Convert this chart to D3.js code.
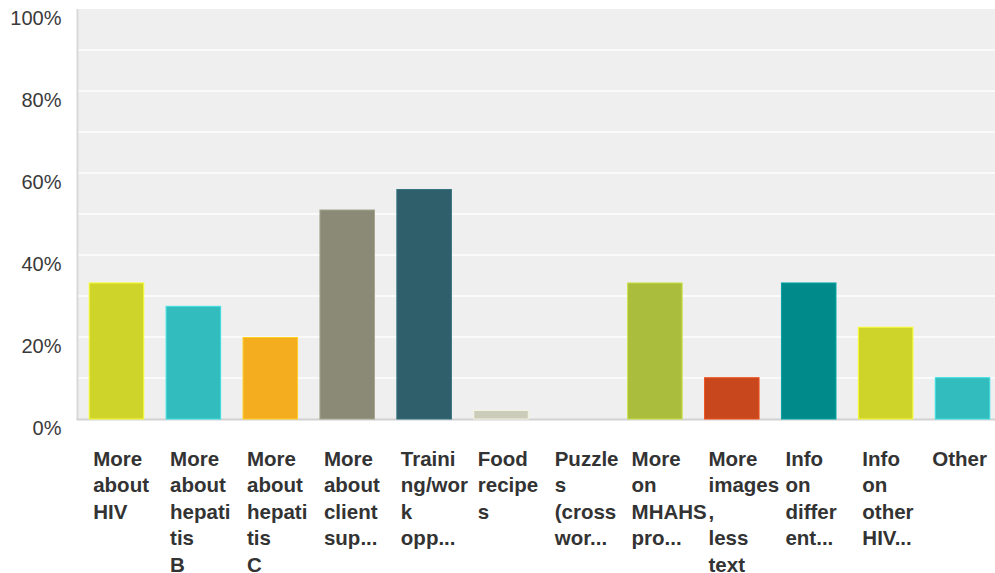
<!DOCTYPE html>
<html>
<head>
<meta charset="utf-8">
<script src="https://cdn.jsdelivr.net/npm/d3@7"></script>
<style>
  body { margin: 0; background: #fff; }
  svg { display: block; }
</style>
</head>
<body>
<div id="container"></div>
<script>
const categories = ["hiv", "hepB", "hepC", "client", "training", "food", "puzzles", "mhahs", "images", "different", "otherHiv", "other"]
const labels = [
  ["More", "about", "HIV"],
  ["More", "about", "hepati", "tis", "B"],
  ["More", "about", "hepati", "tis", "C"],
  ["More", "about", "client", "sup..."],
  ["Traini", "ng/wor", "k", "opp..."],
  ["Food", "recipe", "s"],
  ["Puzzle", "s", "(cross", "wor..."],
  ["More", "on", "MHAHS", "pro..."],
  ["More", "images", ",", "less", "text"],
  ["Info", "on", "differ", "ent..."],
  ["Info", "on", "other", "HIV..."],
  ["Other"]
]
const values = [33.3, 27.6, 20.0, 51.1, 56.1, 2.2, 0, 33.3, 10.2, 33.3, 22.5, 10.2]
const colors = ["#cfd42a", "#33bcbe", "#f5ad20", "#8a8a77", "#2e5f6b", "#ccccbb", "#ccccbb", "#aabd3c", "#c8471d", "#008a8a", "#cfd42a", "#33bcbe"]
const yTicks = [0, 20, 40, 60, 80, 100]
const gridTicks = [10, 20, 30, 40, 50, 60, 70, 80, 90]

const width = 995
const height = 573
const margin = {top: 9, right: 0, bottom: 154, left: 78}

const svg = d3.create("svg")
    .attr("width", width)
    .attr("height", height)

const x = d3.scaleBand()
    .domain(categories)
    .range([margin.left, 1001])
    .paddingInner(0.278)
    .paddingOuter(0.139)

const y = d3.scaleLinear()
    .domain([0, 100])
    .range([height - margin.bottom, margin.top])

// plot background
svg.append("rect")
    .attr("x", margin.left)
    .attr("y", y(100))
    .attr("width", width - margin.left)
    .attr("height", y(0) - y(100))
    .attr("fill", "#efefef")

svg.append("g")
    .selectAll("line")
    .data(gridTicks)
    .join("line")
    .attr("x1", margin.left)
    .attr("x2", width)
    .attr("y1", d => y(d))
    .attr("y2", d => y(d))
    .attr("stroke", "#fafafa")
    .attr("stroke-width", 2)

// axis lines
svg.append("line")
    .attr("x1", margin.left - 0.5).attr("x2", margin.left - 0.5)
    .attr("y1", y(100)).attr("y2", y(0) + 1)
    .attr("stroke", "#d9d9d9").attr("stroke-width", 2)

svg.append("line")
    .attr("x1", margin.left - 1.5).attr("x2", width)
    .attr("y1", y(0) + 0.5).attr("y2", y(0) + 0.5)
    .attr("stroke", "#d2d2d2").attr("stroke-width", 2)

// y labels
svg.append("g")
    .selectAll("text")
    .data(yTicks)
    .join("text")
    .attr("x", 61.5)
    .attr("y", d => y(d) + 16)
    .attr("text-anchor", "end")
    .attr("font-family", "Liberation Sans, Arial, sans-serif")
    .attr("font-size", 20)
    .attr("fill", "#3a3a3a")
    .text(d => d + "%")

// bars
svg.append("g")
    .selectAll("rect")
    .data(values)
    .join("rect")
    .attr("x", (d, i) => x(categories[i]) + 0.5)
    .attr("y", d => y(d) + 0.5)
    .attr("width", x.bandwidth() - 1)
    .attr("height", d => Math.max(0, y(0) - y(d) - 0.5))
    .attr("fill", (d, i) => colors[i])
    .attr("stroke", (d, i) => d3.color(colors[i]).brighter(0.5))
    .attr("stroke-width", 1)
    .style("display", d => d > 0 ? null : "none")

// category labels, wrapped as in the original
const labelG = svg.append("g")
    .attr("font-family", "Liberation Sans, Arial, sans-serif")
    .attr("font-size", 20.5)
    .attr("font-weight", "bold")
    .attr("fill", "#333")

labels.forEach((lines, i) => {
    const t = labelG.append("text")
        .attr("x", x(categories[i]) + 4.5)
        .attr("y", 465.5)
    lines.forEach((line, j) => {
        t.append("tspan")
            .attr("x", x(categories[i]) + 4.5)
            .attr("dy", j === 0 ? 0 : 26.5)
            .text(line)
    })
})

document.querySelector("#container").appendChild(svg.node())

// keep labels inside the window like the original does
labelG.selectAll("text").each(function() {
    const box = this.getBBox()
    const over = box.x + box.width - 987
    if (over > 0) {
        d3.select(this).selectAll("tspan").attr("x", box.x - over)
    }
})
</script>
</body>
</html>
